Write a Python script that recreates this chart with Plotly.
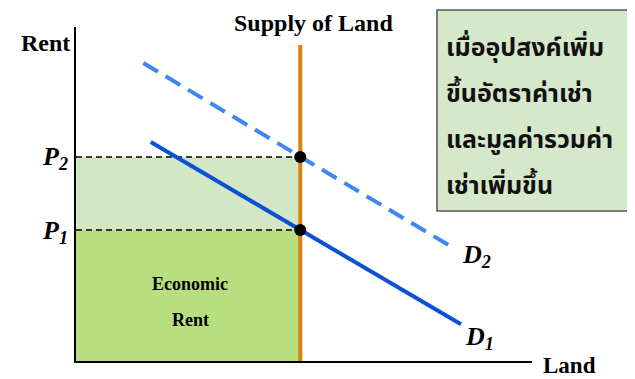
import plotly.graph_objects as go

# ---- data (economic units) ----
Q_SUPPLY = 6.0
P1 = 4.0
P2 = 6.23
D1_x = [2.0, 10.3]
D1_y = [6.69, 1.12]
D2_x = [1.8, 10.0]
D2_y = [9.10, 3.52]
SUPPLY_TOP = 9.65
X_MAX = 12.2
Y_MAX = 10.2

thai_lines = ["เมื่ออุปสงค์เพิ่ม", "ขึ้นอัตราค่าเช่า", "และมูลค่ารวมค่า", "เช่าเพิ่มขึ้น"]

# page body has an 8px default margin; compensate
OFF = 8
W, H = 635 - OFF, 379 - OFF
L, R, T, B = 76 - OFF, 103, 27 - OFF, 18
PW, PH = W - L - R, H - T - B

def px(xp):
    return (xp - OFF - L) / PW

def py(yp):
    return (H - B - (yp - OFF)) / PH

serif = "Liberation Serif, Times New Roman, serif"

fig = go.Figure()

fig.add_trace(go.Scatter(x=[0, Q_SUPPLY, Q_SUPPLY, 0, 0], y=[P1, P1, P2, P2, P1],
                         fill="toself", fillcolor="#D2E7C4", mode="none", hoverinfo="skip"))
fig.add_trace(go.Scatter(x=[0, Q_SUPPLY, Q_SUPPLY, 0, 0], y=[0, 0, P1, P1, 0],
                         fill="toself", fillcolor="#B8DF7F", mode="none", hoverinfo="skip"))
for p in (P1, P2):
    fig.add_trace(go.Scatter(x=[0, Q_SUPPLY], y=[p, p], mode="lines",
                             line=dict(color="black", width=1.5, dash="6px,4px"), hoverinfo="skip"))
fig.add_trace(go.Scatter(x=[Q_SUPPLY, Q_SUPPLY], y=[0, SUPPLY_TOP], mode="lines",
                         line=dict(color="#D9810F", width=4), hoverinfo="skip"))
fig.add_trace(go.Scatter(x=D2_x, y=D2_y, mode="lines",
                         line=dict(color="#3F86F4", width=4, dash="17px,9px"), hoverinfo="skip"))
fig.add_trace(go.Scatter(x=D1_x, y=D1_y, mode="lines",
                         line=dict(color="#0B50D5", width=4), hoverinfo="skip"))
fig.add_trace(go.Scatter(x=[Q_SUPPLY, Q_SUPPLY], y=[P1, P2], mode="markers",
                         marker=dict(color="black", size=12), hoverinfo="skip"))

ann = []
def add_text(text, xp, yp, size, xanchor="center", yanchor="middle", family=serif, color="black"):
    ann.append(dict(text=text, x=px(xp), y=py(yp), xref="paper", yref="paper",
                    xanchor=xanchor, yanchor=yanchor, showarrow=False,
                    font=dict(family=family, size=size, color=color)))

add_text("<b>Rent</b>", 72, 43, 24, xanchor="right")
add_text("<b>Supply of Land</b>", 313, 23, 24)
add_text("<b>Land</b>", 569, 365, 23)
add_text("<b><i>P</i></b><sub><b><i>2</i></b></sub>", 55, 158, 26)
add_text("<b><i>P</i></b><sub><b><i>1</i></b></sub>", 55, 232, 26)
add_text("<b><i>D</i></b><sub><b><i>2</i></b></sub>", 476, 256, 26)
add_text("<b><i>D</i></b><sub><b><i>1</i></b></sub>", 479, 338, 26)
add_text("<b>Economic</b>", 190, 284, 18)
add_text("<b>Rent</b>", 190, 320, 18)

thai_font = "Noto Sans Thai, Tahoma, Leelawadee UI, DejaVu Sans, sans-serif"
for i, line in enumerate(thai_lines):
    add_text("<b>" + line + "</b>", 444, 48 + i * 46, 25, xanchor="left", family=thai_font, color="#111111")

fig.update_layout(
    width=W, height=H,
    margin=dict(l=L, r=R, t=T, b=B),
    paper_bgcolor="white", plot_bgcolor="white",
    showlegend=False,
    annotations=ann,
    shapes=[dict(type="rect", xref="paper", yref="paper",
                 x0=px(437), x1=px(632), y0=py(211), y1=py(10),
                 fillcolor="#D5E8C9", line=dict(color="#555555", width=1.5), layer="below")],
)
fig.update_xaxes(range=[0, X_MAX], showline=True, linecolor="black", linewidth=2,
                 showgrid=False, zeroline=False, showticklabels=False, ticks="")
fig.update_yaxes(range=[0, Y_MAX], showline=True, linecolor="black", linewidth=2,
                 showgrid=False, zeroline=False, showticklabels=False, ticks="")

fig.write_html("out.html")
